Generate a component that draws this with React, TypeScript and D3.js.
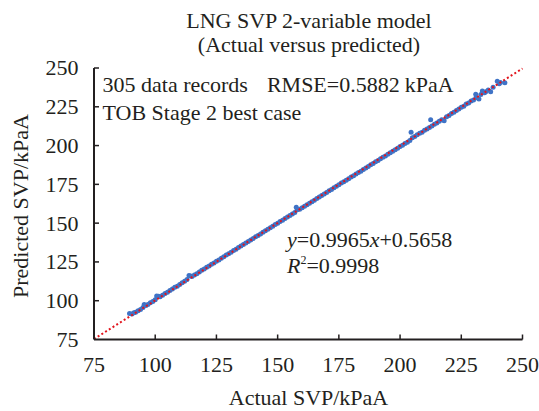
import { line as d3Line, scaleLinear } from "d3"

// axis ticks, kPaA
const axisTicks = [75, 100, 125, 150, 175, 200, 225, 250]

// measured (actual) saturated vapour pressure, kPaA
const actualSVP = [
  89.5, 90.5, 91.3, 92, 93, 94, 95, 95.5, 96.2, 97,
  98, 99, 100, 100.6, 101.3, 102, 103, 104, 105, 106,
  107, 108, 109, 110, 111, 112, 113, 113.8, 114.5, 115,
  116, 117, 118, 119, 120, 121, 122, 123, 124, 125,
  126, 127, 128, 129, 130, 131, 132, 133, 134, 135,
  136, 137, 138, 139, 140, 141, 142, 143, 144, 145,
  146, 147, 148, 149, 150, 151, 152, 153, 154, 155,
  156, 157, 157.6, 158, 159, 160, 161, 162, 163, 164,
  165, 166, 167, 168, 169, 170, 171, 172, 173, 174,
  175, 176, 177, 178, 179, 180, 181, 182, 183, 184,
  185, 186, 187, 188, 189, 190, 191, 192, 193, 194,
  195, 196, 197, 198, 199, 200, 201, 202, 203, 204,
  204.5, 205, 206, 207, 208, 209, 210, 211, 212, 212.5,
  213, 214, 215, 216, 217, 218, 219, 220, 221, 222,
  223, 224, 225, 226, 227, 228, 229, 230, 230.9, 231,
  232.2, 233, 233.6, 234.5, 235, 236, 237, 238, 239.7, 240.5,
  241, 242.8,
]

// model (predicted) saturated vapour pressure, kPaA
const predictedSVP = [
  91.8, 91.5, 92.2, 92.6, 93.6, 94.4, 95.6, 97.6, 96.9, 97.6,
  98.7, 99.5, 100.6, 103.1, 102.8, 102.6, 103.5, 104.6, 105.5, 106.6,
  107.5, 108.6, 109.4, 110.5, 111.6, 112.5, 113.6, 116.2, 116, 115.6,
  116.5, 117.4, 118.5, 119.6, 120.4, 121.5, 122.4, 123.5, 124.3, 125.4,
  126.3, 127.4, 128.3, 129.4, 130.2, 131.3, 132.3, 133.2, 134.3, 135.2,
  136.3, 137.2, 138.1, 139.2, 140.1, 141.2, 142.1, 143.0, 144.2, 145.1,
  146.0, 147.1, 148.0, 149.1, 150.0, 151.0, 151.9, 153.0, 153.9, 155.0,
  155.9, 156.9, 160.3, 158.6, 159.0, 159.9, 160.9, 161.8, 162.9, 163.8,
  164.8, 165.9, 166.8, 167.8, 168.8, 169.7, 170.8, 171.7, 172.8, 173.7,
  174.7, 175.8, 176.6, 177.7, 178.6, 179.7, 180.6, 181.6, 182.6, 183.5,
  184.6, 185.5, 186.5, 187.6, 188.4, 189.5, 190.4, 191.5, 192.4, 193.3,
  194.4, 195.3, 196.4, 197.3, 198.3, 199.4, 200.2, 201.3, 202.2, 203.3,
  208.6, 205.0, 205.8, 207.0, 207.9, 208.6, 209.8, 210.7, 211.6, 216.7,
  212.6, 213.8, 214.5, 215.7, 216.6, 216.0, 218.6, 219.4, 220.7, 221.5,
  222.6, 223.5, 224.7, 225.4, 226.8, 227.5, 228.7, 229.3, 233.0, 230.8,
  230.0, 232.9, 235.1, 234.0, 234.7, 235.8, 234.7, 237.6, 241.5, 239.8,
  240.6, 240.5,
]

// fitted trend line y = slope * x + intercept
const fitSlope = 0.9965
const fitIntercept = 0.5658
const fitRange = [75, 250]

const font = "'Liberation Serif', 'Times New Roman', serif"

export default function App() {
  const width = 539
  const height = 411
  const x = scaleLinear().domain([75, 250]).range([94, 522.5])
  const y = scaleLinear().domain([75, 250]).range([339.5, 68])

  const trend = d3Line<number>()
    .x((v) => x(v))
    .y((v) => y(fitSlope * v + fitIntercept))(fitRange) ?? ""

  const axisColor = "#231f20"

  return (
    <div style={{ position: "absolute", left: 0, top: 0 }}>
      <style>{"body{margin:0}"}</style>
      <svg width={width} height={height} viewBox={`0 0 ${width} ${height}`} style={{ display: "block", background: "#fff" }} fontFamily={font} fill="#231f20" fontSize="22">
        <text x={309} y={28} textAnchor="middle">LNG SVP 2-variable model</text>
        <text x={309} y={52} textAnchor="middle">(Actual versus predicted)</text>

        {actualSVP.map((a, i) => (
          <circle key={i} cx={x(a)} cy={y(predictedSVP[i])} r={2.5} fill="#3f73c6" />
        ))}

        <path d={trend} fill="none" stroke="#e2141c" strokeWidth={2} strokeDasharray="2 2.4" />

        {/* axes */}
        <line x1={x(75)} x2={x(250)} y1={y(75)} y2={y(75)} stroke={axisColor} strokeWidth={2} />
        <line x1={x(75)} x2={x(75)} y1={y(75)} y2={y(250)} stroke={axisColor} strokeWidth={2} />
        {axisTicks.map((t) => (
          <g key={t}>
            {t > 75 && <line x1={x(t)} x2={x(t)} y1={y(75)} y2={y(75) - 5} stroke={axisColor} strokeWidth={1.5} />}
            {t > 75 && <line x1={x(75)} x2={x(75) + 5} y1={y(t)} y2={y(t)} stroke={axisColor} strokeWidth={1.5} />}
            <text x={x(t)} y={371.5} textAnchor="middle">{t}</text>
            <text x={78.5} y={y(t)} dy="0.34em" textAnchor="end">{t}</text>
          </g>
        ))}

        <text x={308.5} y={405} textAnchor="middle">Actual SVP/kPaA</text>
        <text transform={`translate(28,206) rotate(-90)`} textAnchor="middle">Predicted SVP/kPaA</text>

        <text x={102.5} y={92}>
          <tspan>305 data records</tspan>
          <tspan dx={19}>RMSE=0.5882</tspan>
          <tspan dx={5}>kPaA</tspan>
        </text>
        <text x={102.5} y={120}>TOB Stage 2 best case</text>

        <text x={287} y={247}>
          <tspan fontStyle="italic">y</tspan>=0.9965<tspan fontStyle="italic">x</tspan>+0.5658
        </text>
        <text x={287} y={273}>
          <tspan fontStyle="italic">R</tspan>
          <tspan fontSize="12" dy="-9">2</tspan>
          <tspan dy="9">=0.9998</tspan>
        </text>
      </svg>
    </div>
  )
}
